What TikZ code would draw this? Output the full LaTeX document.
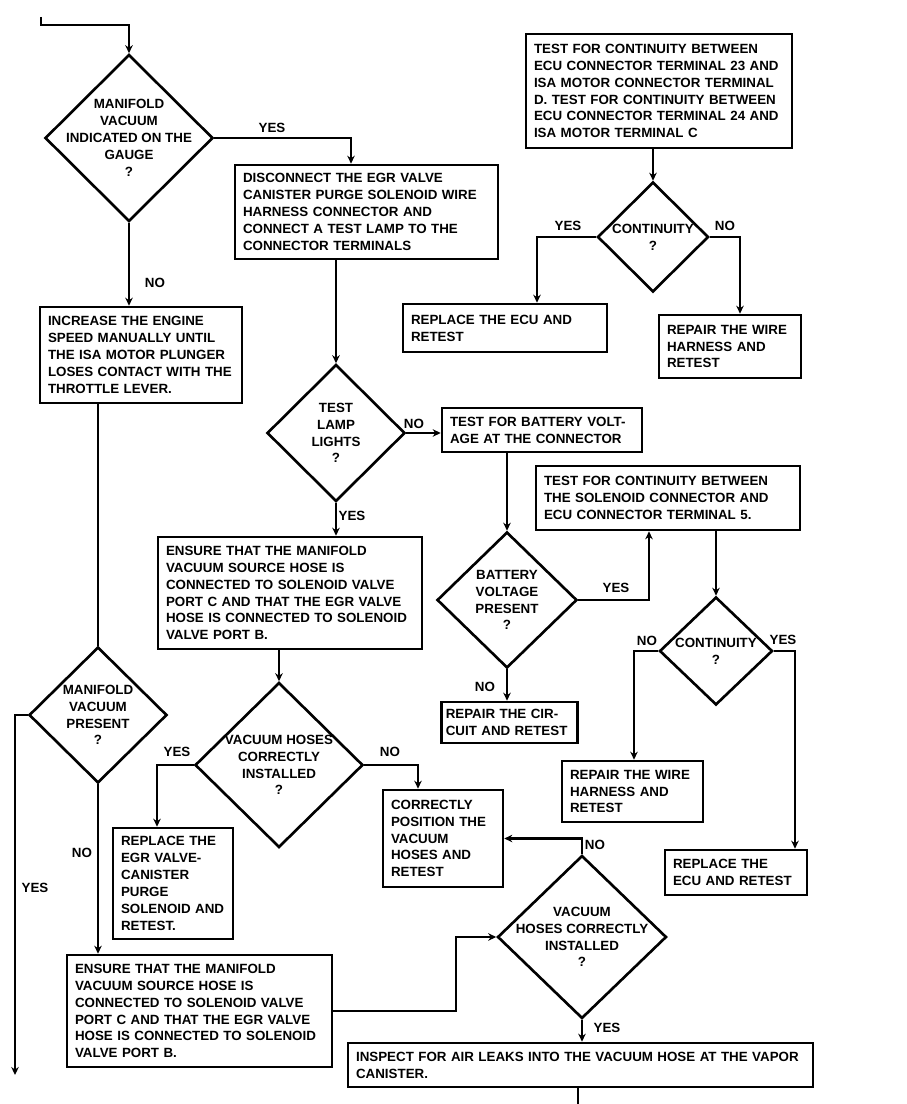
\documentclass[tikz,border=0pt]{standalone}
\usepackage{fontspec}
\setmainfont{Liberation Sans}
\usepackage{tikz}
\usetikzlibrary{shapes.geometric,arrows.meta,positioning,calc}
\newcommand{\flowfont}{\fontsize{7.6}{9.6}\selectfont\bfseries}

\begin{document}
\begin{tikzpicture}[
  x=0.02cm, y=-0.02cm,
  line width=1.3pt,
  box/.style={rectangle,draw,line width=1.5pt,inner xsep=0.16cm,inner ysep=0pt,align=left,font=\flowfont},
  dec/.style={diamond,draw,line width=1.5pt,inner sep=0pt},
  dtxt/.style={align=center,font=\flowfont,inner sep=0pt},
  lbl/.style={font=\flowfont,inner sep=0pt},
  arr/.style={-{Stealth[length=1.6mm,width=1.5mm]}}
]
\path[use as bounding box,fill=white] (0,0) rectangle (906,1104);

% left column
\node[dec,minimum width=3.36cm,minimum height=3.34cm,label={[dtxt]center:MANIFOLD\\VACUUM\\INDICATED ON THE\\GAUGE\\?}] (gauge) at (129,138) {};
\node[box,text width=3.72cm,minimum height=1.92cm] (inc) at (141,355) {INCREASE THE ENGINE\\SPEED MANUALLY UNTIL\\THE ISA MOTOR PLUNGER\\LOSES CONTACT WITH THE\\THROTTLE LEVER.};
\node[dec,minimum width=2.76cm,minimum height=2.72cm,label={[dtxt]center:MANIFOLD\\VACUUM\\PRESENT\\?}] (present) at (98,715) {};
\node[box,text width=4.98cm,minimum height=2.24cm] (ens2) at (199.5,1011) {ENSURE THAT THE MANIFOLD\\VACUUM SOURCE HOSE IS\\CONNECTED TO SOLENOID VALVE\\PORT C AND THAT THE EGR VALVE\\HOSE IS CONNECTED TO SOLENOID\\VALVE PORT B.};

% middle column
\node[box,text width=4.94cm,minimum height=1.88cm] (disc) at (366.5,212) {DISCONNECT THE EGR VALVE\\CANISTER PURGE SOLENOID WIRE\\HARNESS CONNECTOR AND\\CONNECT A TEST LAMP TO THE\\CONNECTOR TERMINALS};
\node[dec,minimum width=2.76cm,minimum height=2.74cm,label={[dtxt]center:TEST\\LAMP\\LIGHTS\\?}] (lamp) at (336,433) {};
\node[box,text width=4.96cm,minimum height=2.24cm] (ens1) at (290,593) {ENSURE THAT THE MANIFOLD\\VACUUM SOURCE HOSE IS\\CONNECTED TO SOLENOID VALVE\\PORT C AND THAT THE EGR VALVE\\HOSE IS CONNECTED TO SOLENOID\\VALVE PORT B.};
\node[dec,minimum width=3.36cm,minimum height=3.30cm,label={[dtxt]center:VACUUM HOSES\\CORRECTLY\\INSTALLED\\?}] (hoses1) at (279,765) {};
\node[box,text width=2.08cm,minimum height=2.22cm] (egr) at (173,883.5) {REPLACE THE\\EGR VALVE-\\CANISTER\\PURGE\\SOLENOID AND\\RETEST.};
\node[box,text width=2.08cm,minimum height=1.94cm] (pos) at (443,838.5) {CORRECTLY\\POSITION THE\\VACUUM\\HOSES AND\\RETEST};
\node[dec,minimum width=3.38cm,minimum height=3.26cm,label={[dtxt]center:VACUUM\\HOSES CORRECTLY\\INSTALLED\\?}] (hoses2) at (582,937) {};
\node[box,text width=8.98cm,minimum height=0.88cm] (insp) at (580.5,1065) {INSPECT FOR AIR LEAKS INTO THE VACUUM HOSE AT THE VAPOR\\CANISTER.};

% right column
\node[box,text width=5.0cm,minimum height=2.28cm] (ctest) at (659,91) {TEST FOR CONTINUITY BETWEEN\\ECU CONNECTOR TERMINAL 23 AND\\ISA MOTOR CONNECTOR TERMINAL\\D. TEST FOR CONTINUITY BETWEEN\\ECU CONNECTOR TERMINAL 24 AND\\ISA MOTOR TERMINAL C};
\node[dec,minimum width=2.22cm,minimum height=2.20cm,label={[dtxt]center:CONTINUITY\\?}] (cnt1) at (653,237) {};
\node[box,text width=3.76cm,minimum height=0.96cm] (ecu1) at (505,328) {REPLACE THE ECU AND\\RETEST};
\node[box,text width=2.52cm,minimum height=1.26cm] (wire1) at (730,346.5) {REPAIR THE WIRE\\HARNESS AND\\RETEST};
\node[box,text width=3.68cm,minimum height=0.88cm] (btest) at (542,430) {TEST FOR BATTERY VOLT-\\AGE AT THE CONNECTOR};
\node[box,text width=4.96cm,minimum height=1.28cm] (sol) at (668,498) {TEST FOR CONTINUITY BETWEEN\\THE SOLENOID CONNECTOR AND\\ECU CONNECTOR TERMINAL 5.};
\node[dec,minimum width=2.80cm,minimum height=2.72cm,label={[dtxt]center:BATTERY\\VOLTAGE\\PRESENT\\?}] (bvolt) at (507,600) {};
\node[dec,minimum width=2.26cm,minimum height=2.16cm,label={[dtxt]center:CONTINUITY\\?}] (cnt2) at (716,651) {};
\node[box,text width=2.55cm,inner xsep=0.08cm,minimum height=0.82cm] (circ) at (509.5,722.5) {REPAIR THE CIR-\\CUIT AND RETEST};
\node[box,text width=2.5cm,minimum height=1.22cm] (wire2) at (632.5,791.5) {REPAIR THE WIRE\\HARNESS AND\\RETEST};
\node[box,text width=2.52cm,minimum height=0.9cm] (ecu2) at (736,872.5) {REPLACE THE\\ECU AND RETEST};

% connectors
\coordinate (start) at (41,17);
\draw[arr] (start) -- ++(0,8) -| (gauge.north);
\draw[arr] (gauge.east) -| ([xshift=-0.31cm]disc.north);
\draw[arr] (gauge.south) -- (gauge.south |- inc.north);
\draw[line width=0.6pt] (present.north |- inc.south) -- (present.north);
\coordinate (yesend) at (15,1075);
\draw[arr] (present.west) -| (yesend);
\draw[arr] (present.south) -- (present.south |- ens2.north);
\draw[arr] (ens2.east) -- ++(123,0) |- (hoses2.west);
\draw[arr] (lamp.north |- disc.south) -- (lamp.north);
\draw[arr] (lamp.east) -- (lamp.east -| btest.west);
\draw[arr] (lamp.south) -- (lamp.south |- ens1.north);
\draw[arr] (hoses1.north |- ens1.south) -- (hoses1.north);
\draw[arr] (hoses1.west) -| ([xshift=-0.32cm]egr.north);
\draw[arr] (hoses1.east) -| ([xshift=-0.5cm]pos.north);
\draw[arr] (hoses2.north) |- (pos.east);
\draw[arr] (hoses2.south) -- (hoses2.south |- insp.north);
\coordinate (exit) at (578,1104);
\draw (insp.south -| exit) -- (exit);
\draw[arr] (cnt1.north |- ctest.south) -- (cnt1.north);
\draw[arr] (cnt1.west) -| ([xshift=0.64cm]ecu1.north);
\draw[arr] (cnt1.east) -| ([xshift=0.2cm]wire1.north);
\draw[arr] (bvolt.north |- btest.south) -- (bvolt.north);
\draw[arr] (bvolt.east) -| ([xshift=-0.38cm]sol.south);
\draw[arr] (bvolt.south) -- (bvolt.south |- circ.north);
\draw[arr] (cnt2.north |- sol.south) -- (cnt2.north);
\draw[arr] (cnt2.west) -| ([xshift=0.03cm]wire2.north);
\draw[arr] (cnt2.east) -| ([xshift=1.18cm]ecu2.north);

% branch labels
\foreach \t/\x/\y [count=\i] in {YES/272/128, NO/155/283, YES/568/226, NO/725/226,
    NO/414/424, YES/352/516, YES/616/588, NO/485/687, NO/647/641, YES/783/640,
    YES/177/752, NO/390/752, YES/35/888, NO/82/853, NO/595/845, YES/607/1028}
  \node[lbl] (l\i) at (\x,\y) {\t};
\end{tikzpicture}
\end{document}
